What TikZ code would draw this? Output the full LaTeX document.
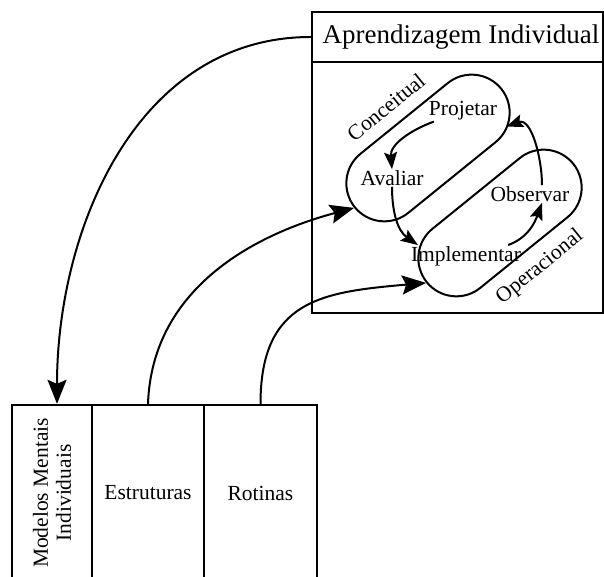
\documentclass[tikz,border=0pt]{standalone}
\usepackage{fontspec}
\setmainfont{Liberation Serif}
\usetikzlibrary{arrows.meta}
\usetikzlibrary{shapes.misc}

\begin{document}
\begin{tikzpicture}[x=1pt,y=1pt]
    \tikzstyle{frame box} = [draw, line width=2.3pt, inner sep=0pt]
    \tikzstyle{loop shape} = [draw, rounded rectangle, line width=2pt, minimum width=195pt, minimum height=76pt, rotate=39]
    \tikzstyle{stage text} = [font=\fontsize{21.5}{23}\selectfont, inner sep=1pt]
    \tikzstyle{big arrow} = [line width=2pt, -{Stealth[length=24pt,width=19pt,inset=4pt]}]
    \tikzstyle{small arrow} = [line width=2pt, -{Stealth[length=17pt,width=13pt,inset=3pt]}]

    \useasboundingbox (0,0) rectangle (604,577);

    % individual learning box
    \node[frame box, minimum width=291pt, minimum height=50pt] (title) at (457.5,540) {};
    \node[stage text, font=\fontsize{27}{30}\selectfont] (titletext) at (461,540) {Aprendizagem Individual};
    \node[frame box, minimum width=291pt, minimum height=251pt] (indiv) at (457.5,389.5) {};

    % the two loops
    \node[loop shape] (conc) at (428,429) {};
    \node[loop shape] (oper) at (500,354) {};
    \node[stage text, rotate=39] (conclabel) at (386,470) {Conceitual};
    \node[stage text, rotate=39] (operlabel) at (540,310) {Operacional};

    \node[stage text] (projetar) at (463,466) {Projetar};
    \node[stage text] (avaliar) at (392,399) {Avaliar};
    \node[stage text] (observar) at (530,383) {Observar};
    \node[stage text] (implementar) at (466,321) {Implementar};

    % cycle arrows
    \draw[small arrow] (projetar.200) to[out=200,in=95] (avaliar.north);
    \draw[small arrow] (avaliar.south) to[out=270,in=145] ([xshift=8pt]implementar.north west);
    \draw[small arrow] ([xshift=-14pt]implementar.north east) to[out=20,in=250] ([xshift=12pt]observar.south);
    \draw[small arrow] ([xshift=12pt]observar.north) to[out=90,in=20] ([shift={(8pt,-5pt)}]projetar.south east);

    % bottom columns, open at the bottom
    \node[frame box, minimum width=80pt, minimum height=176pt] (modelos) at (52,84) {};
    \node[stage text, rotate=90, align=center] (modelostext) at (modelos.center) {Modelos Mentais\\Individuais};
    \node[frame box, stage text, inner sep=0pt, minimum width=112pt, minimum height=176pt] (estr) at (148,84) {Estruturas};
    \node[frame box, stage text, inner sep=0pt, minimum width=113pt, minimum height=176pt] (rot) at (260.5,84) {Rotinas};

    % links to the individual box
    \draw[big arrow] (title.west) to[out=180,in=90] ([xshift=5pt]modelos.north);
    \draw[big arrow] (estr.north) to[out=88,in=195] (conc.west);
    \draw[big arrow] (rot.north) to[out=90,in=185,looseness=1.3] (oper.west);
\end{tikzpicture}
\end{document}
